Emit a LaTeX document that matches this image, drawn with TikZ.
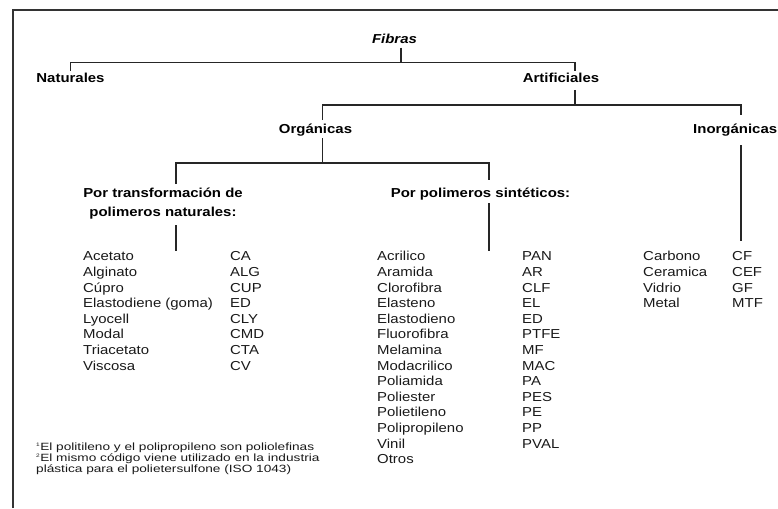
\documentclass[tikz,border=0pt]{standalone}
\usepackage{fontspec}
\setmainfont{Liberation Sans}[FakeStretch=1.15]
\newfontfamily\notefont{Liberation Sans}[FakeStretch=1.3]

% one column of entries, first baseline = node base
\newcommand{\fibcol}[1]{\begin{tabular}[t]{@{}l@{}}#1\end{tabular}}

\begin{document}
\begin{tikzpicture}[x=1pt, y=-1pt,
tree/.style={draw=black!85, line width=1.2pt},
frame/.style={draw=black!80, line width=1.6pt},
group/.style={inner sep=0pt, anchor=base, text=black, font=\fontsize{13}{19.4}\selectfont\bfseries},
entries/.style={inner sep=0pt, anchor=base west, text=black!90, font=\fontsize{13}{15.6}\selectfont},
notes/.style={inner sep=0pt, anchor=base west, text=black!90, font=\notefont\fontsize{10.5}{11}\selectfont},
]
\useasboundingbox (0,0) rectangle (778,508);

% open frame round the chart
\draw[frame] (12.7,508) |- (778,10);

% \node[type](name_of_node) at (x,y){text_in_node}
\node[group](fibras) at (394.5,43.3){\textit{Fibras}};
\node[group](naturales) at (70.5,82.3){Naturales};
\node[group](artificiales) at (561,82.3){Artificiales};
\node[group](organicas) at (315.5,133){Orgánicas};
\node[group, anchor=base west](inorganicas) at (693,133){Inorgánicas};
\node[group](transform) at (163,197.3){\begin{tabular}[t]{@{}c@{}}Por transformación de\\polimeros naturales:\end{tabular}};
\node[group](sinteticos) at (480.5,197.3){Por polimeros sintéticos:};

% lists of fibres and their codes
\node[entries](transnames) at (83,260.8){\fibcol{Acetato\\Alginato\\Cúpro\\Elastodiene (goma)\\Lyocell\\Modal\\Triacetato\\Viscosa}};
\node[entries](transcodes) at (230,260.8){\fibcol{CA\\ALG\\CUP\\ED\\CLY\\CMD\\CTA\\CV}};
\node[entries](sintnames) at (377,260.8){\fibcol{Acrilico\\Aramida\\Clorofibra\\Elasteno\\Elastodieno\\Fluorofibra\\Melamina\\Modacrilico\\Poliamida\\Poliester\\Polietileno\\Polipropileno\\Vinil\\Otros}};
\node[entries](sintcodes) at (522,260.8){\fibcol{PAN\\AR\\CLF\\EL\\ED\\PTFE\\MF\\MAC\\PA\\PES\\PE\\PP\\PVAL}};
\node[entries](inornames) at (643,260.8){\fibcol{Carbono\\Ceramica\\Vidrio\\Metal}};
\node[entries](inorcodes) at (732,260.8){\fibcol{CF\\CEF\\GF\\MTF}};

% footnotes
\node[notes](footnotes) at (36,450){\begin{tabular}[t]{@{}l@{}}\textsuperscript{\tiny 1}El politileno y el polipropileno son poliolefinas\\\textsuperscript{\tiny 2}El mismo código viene utilizado en la industria\\plástica para el polietersulfone (ISO 1043)\end{tabular}};

% junctions of the tree
\coordinate (jfib) at (401,62.5);
\coordinate (jart) at (575,105);
\coordinate (jorg) at (322.5,163);
\coordinate (jtra) at (176,0);
\coordinate (jsin) at (489,0);
\coordinate (jino) at (741,0);

% \draw (name_of_node.anchor) -- (name_of_node.anchor)
\draw[tree] ([yshift=-4.4pt]fibras.base -| jfib) -- (jfib);
\draw[tree] ([yshift=11.3pt]naturales.base) |- (jfib) -| ([yshift=11.3pt]artificiales.base -| jart);
\draw[tree] ([yshift=-7.7pt]artificiales.base -| jart) -- (jart);
\draw[tree] ([yshift=13pt]organicas.base -| jorg) |- (jart) -| ([yshift=18pt]inorganicas.base -| jino);
\draw[tree] ([yshift=-5pt]organicas.base -| jorg) -- (jorg);
\draw[tree] ([yshift=13.3pt]transform.base -| jtra) |- (jorg) -| ([yshift=17.3pt]sinteticos.base -| jsin);
\draw[tree] ([yshift=-27.7pt]transform.base -| jtra) -- ([yshift=-1pt]transnames.north -| jtra);
\draw[tree] ([yshift=-5.7pt]sinteticos.base -| jsin) -- ([yshift=-1pt]sintnames.north -| jsin);
\draw[tree] ([yshift=-12pt]inorganicas.base -| jino) -- ([yshift=9pt]inornames.north -| jino);

\end{tikzpicture}
\end{document}
